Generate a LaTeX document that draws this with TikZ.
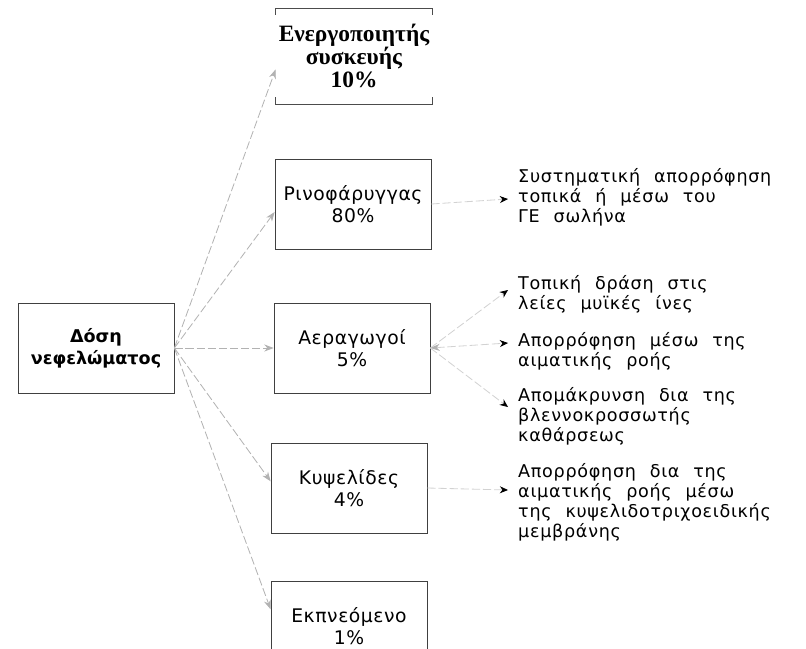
\documentclass[tikz,border=0pt]{standalone}
\usepackage{fontspec}
\setmainfont{DejaVu Sans}
\newfontfamily\notefont[LetterSpace=4.0,WordSpace=2.2]{DejaVu Sans}
\newfontfamily\boxfont[LetterSpace=3.0]{DejaVu Sans}
\newfontfamily\boldserif{Liberation Serif}
\usetikzlibrary{arrows.meta,positioning,calc}

\begin{document}
\begin{tikzpicture}[
    x=0.3mm, y=-0.3mm,
    box/.style={rectangle, draw=black!75, line width=0.6pt, minimum width=46.8mm, minimum height=27mm, inner sep=0pt, align=center, font=\boxfont\fontsize{16}{19}\selectfont},
    srcbox/.style={box, font=\fontsize{15}{18.5}\selectfont\bfseries},
    openbox/.style={box, draw=none, minimum height=28.5mm, font=\boldserif\bfseries\fontsize{20}{20}\selectfont},
    frame/.style={draw=black!70, line width=0.6pt},
    note/.style={anchor=west, align=left, inner sep=0pt, font=\notefont\fontsize{15}{17}\selectfont},
    arrow/.style={-{Stealth[length=8pt,width=6pt]}, line width=0.7pt, draw=gray!60, dash pattern=on 7pt off 2.5pt},
    link/.style={-{Stealth[black,length=7pt,width=6pt]}, line width=0.7pt, draw=gray!35, dash pattern=on 7pt off 2.5pt}
]
\useasboundingbox (0,0) rectangle (806,648);

% Dose and deposition compartments
\node[srcbox] (dose) at (96,348) {Δόση\\νεφελώματος};
\node[openbox] (device) at (354,56) {Ενεργοποιητής\\συσκευής\\10\%};
\node[box] (nose) at (353,204) {Ρινοφάρυγγας\\80\%};
\node[box] (airways) at (352,348) {Αεραγωγοί\\5\%};
\node[box] (alveoli) at (349,488) {Κυψελίδες\\4\%};
\node[box] (exhaled) at (349,626) {Εκπνεόμενο\\1\%};

% open frame of the device box
\draw[frame] ([yshift=-2mm]device.north west) -- (device.north west) -- (device.north east) -- ([yshift=-2mm]device.north east);
\draw[frame] ([yshift=2mm]device.south west) -- (device.south west) -- (device.south east) -- ([yshift=2mm]device.south east);

% Dose to compartments
\draw[arrow] (dose.east) -- ([yshift=-4mm]device.west);
\draw[arrow] (dose.east) -- ([yshift=-2.4mm]nose.west);
\draw[arrow] (dose.east) -- (airways.west);
\draw[arrow] (dose.east) -- ([yshift=2mm]alveoli.west);
\draw[arrow] (dose.east) -- ([yshift=5mm]exhaled.west);

% Fate of the deposited drug
\coordinate (b1) at (508,199);
\coordinate (b2) at (508,290);
\coordinate (b3) at (508,343);
\coordinate (b4) at (508,407);
\coordinate (b5) at (508,490);
\node[note] (n1) at (518,197) {Συστηματική απορρόφηση\\τοπικά ή μέσω του\\ΓΕ σωλήνα};
\node[note] (n2) at (518,294) {Τοπική δράση στις\\λείες μυϊκές ίνες};
\node[note] (n3) at (518,351) {Απορρόφηση μέσω της\\αιματικής ροής};
\node[note] (n4) at (518,416) {Απομάκρυνση δια της\\βλεννοκροσσωτής\\καθάρσεως};
\node[note] (n5) at (518,502) {Απορρόφηση δια της\\αιματικής ροής μέσω\\της κυψελιδοτριχοειδικής\\μεμβράνης};

\draw[link] (nose.east) -- (b1);
\draw[link] (airways.east) -- (b2);
\draw[link, {Stealth[gray!60,length=8pt,width=6pt]}-{Stealth[black,length=7pt,width=6pt]}] (airways.east) -- (b3);
\draw[link] (airways.east) -- (b4);
\draw[link] (alveoli.east) -- (b5);

\end{tikzpicture}
\end{document}
